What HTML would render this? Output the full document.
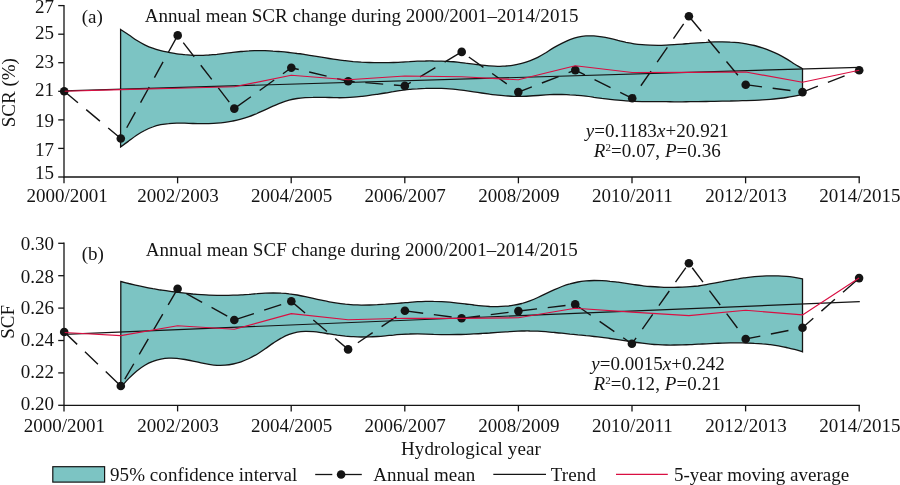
<!DOCTYPE html>
<html lang="en"><head><meta charset="utf-8"><title>Annual mean SCR and SCF change</title>
<style>html,body{margin:0;padding:0;background:#fff}svg{display:block;will-change:transform}</style></head>
<body>
<svg width="900" height="485" viewBox="0 0 900 485" font-family="'Liberation Serif', 'Times New Roman', serif" font-size="19" fill="#141414">
<rect width="900" height="485" fill="#fff"/>
<path d="M120.6 29.5 C121.9 30.4 125.9 32.9 128.6 34.7 C131.3 36.5 134.0 38.6 136.6 40.3 C139.3 42.0 142.0 43.5 144.7 44.8 C147.3 46.1 150.0 47.3 152.7 48.2 C155.4 49.2 158.0 49.9 160.7 50.6 C163.4 51.3 166.1 51.8 168.7 52.3 C171.4 52.8 174.1 53.4 176.8 53.8 C179.4 54.2 182.1 54.4 184.8 54.7 C187.5 54.9 190.1 55.2 192.8 55.3 C195.5 55.4 198.1 55.4 200.8 55.3 C203.5 55.3 206.2 55.1 208.8 55.0 C211.5 54.8 214.2 54.5 216.9 54.3 C219.5 54.0 222.2 53.7 224.9 53.4 C227.6 53.1 230.2 52.7 232.9 52.4 C235.6 52.1 238.3 51.8 240.9 51.5 C243.6 51.3 246.3 51.0 249.0 50.9 C251.6 50.7 254.3 50.7 257.0 50.6 C259.7 50.6 262.3 50.6 265.0 50.7 C267.7 50.8 270.4 50.9 273.0 51.1 C275.7 51.2 278.4 51.5 281.0 51.7 C283.7 51.9 286.4 52.2 289.1 52.5 C291.7 52.8 294.4 53.1 297.1 53.5 C299.8 53.8 302.4 54.2 305.1 54.6 C307.8 55.0 310.5 55.5 313.1 55.9 C315.8 56.4 318.5 56.8 321.2 57.2 C323.8 57.7 326.5 58.1 329.2 58.5 C331.9 58.9 334.5 59.3 337.2 59.7 C339.9 60.1 342.6 60.4 345.2 60.7 C347.9 61.0 350.6 61.3 353.2 61.6 C355.9 61.8 358.6 62.0 361.3 62.2 C363.9 62.3 366.6 62.4 369.3 62.5 C372.0 62.6 374.6 62.7 377.3 62.7 C380.0 62.7 382.7 62.7 385.3 62.7 C388.0 62.7 390.7 62.6 393.4 62.5 C396.0 62.4 398.7 62.3 401.4 62.1 C404.1 62.0 406.7 61.8 409.4 61.7 C412.1 61.5 414.8 61.3 417.4 61.2 C420.1 61.1 422.8 61.0 425.4 61.0 C428.1 60.9 430.8 60.9 433.5 61.0 C436.1 61.0 438.8 61.0 441.5 61.1 C444.2 61.2 446.8 61.3 449.5 61.5 C452.2 61.6 454.9 61.8 457.5 62.1 C460.2 62.4 462.9 62.8 465.6 63.2 C468.2 63.5 470.9 63.9 473.6 64.2 C476.3 64.6 478.9 64.9 481.6 65.2 C484.3 65.5 487.0 65.7 489.6 65.9 C492.3 66.1 495.0 66.3 497.7 66.3 C500.3 66.3 503.0 66.1 505.7 66.0 C508.3 65.8 511.0 65.5 513.7 65.1 C516.4 64.7 519.0 64.1 521.7 63.4 C524.4 62.7 527.1 61.9 529.7 60.9 C532.4 59.8 535.1 58.7 537.8 57.3 C540.4 55.9 543.1 54.3 545.8 52.7 C548.5 51.0 551.1 49.2 553.8 47.6 C556.5 46.0 559.2 44.6 561.8 43.3 C564.5 42.0 567.2 40.7 569.9 39.6 C572.5 38.6 575.2 37.7 577.9 37.1 C580.5 36.5 583.2 36.1 585.9 35.9 C588.6 35.8 591.2 35.8 593.9 35.9 C596.6 36.1 599.3 36.4 601.9 36.8 C604.6 37.2 607.3 37.8 610.0 38.4 C612.6 39.0 615.3 39.7 618.0 40.4 C620.7 41.0 623.3 41.8 626.0 42.4 C628.7 42.9 631.4 43.4 634.0 43.8 C636.7 44.2 639.4 44.5 642.1 44.7 C644.7 45.0 647.4 45.1 650.1 45.2 C652.7 45.3 655.4 45.3 658.1 45.3 C660.8 45.3 663.4 45.2 666.1 45.1 C668.8 45.0 671.5 44.8 674.1 44.6 C676.8 44.5 679.5 44.3 682.2 44.1 C684.8 43.9 687.5 43.6 690.2 43.4 C692.9 43.2 695.5 43.0 698.2 42.8 C700.9 42.6 703.6 42.4 706.2 42.3 C708.9 42.1 711.6 42.0 714.3 41.9 C716.9 41.9 719.6 41.8 722.3 41.8 C725.0 41.8 727.6 41.9 730.3 42.1 C733.0 42.2 735.6 42.4 738.3 42.7 C741.0 43.0 743.7 43.4 746.3 43.8 C749.0 44.3 751.7 44.8 754.4 45.5 C757.0 46.2 759.7 46.9 762.4 47.8 C765.1 48.7 767.7 49.7 770.4 50.8 C773.1 51.9 775.8 53.1 778.4 54.4 C781.1 55.8 783.8 57.3 786.5 58.9 C789.1 60.4 791.8 62.3 794.5 64.0 C797.2 65.6 801.2 67.9 802.5 68.7 L802.5 94.4 C801.2 94.7 797.2 95.6 794.5 96.1 C791.8 96.6 789.1 97.1 786.5 97.5 C783.8 97.9 781.1 98.2 778.4 98.5 C775.8 98.8 773.1 99.1 770.4 99.3 C767.7 99.5 765.1 99.7 762.4 99.9 C759.7 100.1 757.0 100.2 754.4 100.3 C751.7 100.4 749.0 100.5 746.3 100.6 C743.7 100.7 741.0 100.7 738.3 100.8 C735.6 100.8 733.0 100.9 730.3 101.0 C727.6 101.0 725.0 101.1 722.3 101.1 C719.6 101.2 716.9 101.3 714.3 101.4 C711.6 101.4 708.9 101.5 706.2 101.5 C703.6 101.6 700.9 101.6 698.2 101.6 C695.5 101.6 692.9 101.7 690.2 101.7 C687.5 101.7 684.8 101.8 682.2 101.8 C679.5 101.8 676.8 101.8 674.1 101.8 C671.5 101.8 668.8 101.7 666.1 101.7 C663.4 101.7 660.8 101.7 658.1 101.7 C655.4 101.7 652.7 101.7 650.1 101.7 C647.4 101.7 644.7 101.6 642.1 101.6 C639.4 101.5 636.7 101.4 634.0 101.3 C631.4 101.2 628.7 101.0 626.0 100.8 C623.3 100.7 620.7 100.4 618.0 100.2 C615.3 100.0 612.6 99.7 610.0 99.4 C607.3 99.1 604.6 98.7 601.9 98.4 C599.3 98.0 596.6 97.6 593.9 97.3 C591.2 96.9 588.6 96.5 585.9 96.2 C583.2 95.9 580.5 95.6 577.9 95.4 C575.2 95.2 572.5 94.9 569.9 94.8 C567.2 94.6 564.5 94.5 561.8 94.4 C559.2 94.4 556.5 94.4 553.8 94.5 C551.1 94.6 548.5 94.8 545.8 94.9 C543.1 95.1 540.4 95.3 537.8 95.5 C535.1 95.7 532.4 95.9 529.7 96.0 C527.1 96.2 524.4 96.3 521.7 96.4 C519.0 96.4 516.4 96.5 513.7 96.4 C511.0 96.3 508.3 96.0 505.7 95.8 C503.0 95.6 500.3 95.4 497.7 95.1 C495.0 94.9 492.3 94.5 489.6 94.2 C487.0 93.8 484.3 93.4 481.6 93.0 C478.9 92.6 476.3 92.2 473.6 91.8 C470.9 91.4 468.2 91.0 465.6 90.6 C462.9 90.3 460.2 89.9 457.5 89.6 C454.9 89.3 452.2 89.0 449.5 88.8 C446.8 88.6 444.2 88.5 441.5 88.4 C438.8 88.3 436.1 88.3 433.5 88.3 C430.8 88.3 428.1 88.3 425.4 88.4 C422.8 88.4 420.1 88.6 417.4 88.8 C414.8 88.9 412.1 89.2 409.4 89.4 C406.7 89.7 404.1 90.0 401.4 90.4 C398.7 90.7 396.0 91.2 393.4 91.7 C390.7 92.1 388.0 92.6 385.3 93.0 C382.7 93.5 380.0 93.9 377.3 94.3 C374.6 94.7 372.0 95.1 369.3 95.4 C366.6 95.8 363.9 96.1 361.3 96.4 C358.6 96.7 355.9 97.0 353.2 97.2 C350.6 97.4 347.9 97.5 345.2 97.6 C342.6 97.7 339.9 97.8 337.2 97.7 C334.5 97.7 331.9 97.6 329.2 97.5 C326.5 97.4 323.8 97.4 321.2 97.3 C318.5 97.3 315.8 97.3 313.1 97.4 C310.5 97.4 307.8 97.5 305.1 97.7 C302.4 97.9 299.8 98.1 297.1 98.5 C294.4 98.9 291.7 99.4 289.1 100.1 C286.4 100.9 283.7 101.8 281.0 102.8 C278.4 103.8 275.7 105.0 273.0 106.1 C270.4 107.3 267.7 108.6 265.0 109.8 C262.3 111.0 259.7 112.3 257.0 113.5 C254.3 114.6 251.6 115.8 249.0 116.7 C246.3 117.7 243.6 118.5 240.9 119.2 C238.3 119.9 235.6 120.5 232.9 121.0 C230.2 121.5 227.6 122.0 224.9 122.3 C222.2 122.7 219.5 123.0 216.9 123.2 C214.2 123.4 211.5 123.5 208.8 123.6 C206.2 123.7 203.5 123.7 200.8 123.7 C198.1 123.7 195.5 123.6 192.8 123.5 C190.1 123.4 187.5 123.3 184.8 123.2 C182.1 123.2 179.4 123.1 176.8 123.1 C174.1 123.2 171.4 123.3 168.7 123.6 C166.1 123.8 163.4 124.2 160.7 124.7 C158.0 125.3 155.4 126.0 152.7 127.0 C150.0 127.9 147.3 129.1 144.7 130.5 C142.0 131.8 139.3 133.4 136.6 135.2 C134.0 137.0 131.3 139.1 128.6 141.1 C125.9 143.0 121.9 146.0 120.6 147.0 Z" fill="#7cc4c3" stroke="#141414" stroke-width="1.3" stroke-linejoin="miter"/>
<polyline points="64.2,90.9 859.2,67.3" fill="none" stroke="#141414" stroke-width="1.2"/>
<polyline points="64.2,91.3 120.8,138.5 177.7,35.4 234.3,108.6 291.3,67.8 348.2,81.2 404.8,85.9 461.7,51.9 518.3,92.1 575.3,70.1 632.2,98.3 688.9,16.3 745.7,84.7 802.5,92.1 859.2,70.3" fill="none" stroke="#141414" stroke-width="1.4" stroke-dasharray="17.9 10.75"/>
<circle cx="64.2" cy="91.3" r="4.3" fill="#141414"/>
<circle cx="120.8" cy="138.5" r="4.3" fill="#141414"/>
<circle cx="177.7" cy="35.4" r="4.3" fill="#141414"/>
<circle cx="234.3" cy="108.6" r="4.3" fill="#141414"/>
<circle cx="291.3" cy="67.8" r="4.3" fill="#141414"/>
<circle cx="348.2" cy="81.2" r="4.3" fill="#141414"/>
<circle cx="404.8" cy="85.9" r="4.3" fill="#141414"/>
<circle cx="461.7" cy="51.9" r="4.3" fill="#141414"/>
<circle cx="518.3" cy="92.1" r="4.3" fill="#141414"/>
<circle cx="575.3" cy="70.1" r="4.3" fill="#141414"/>
<circle cx="632.2" cy="98.3" r="4.3" fill="#141414"/>
<circle cx="688.9" cy="16.3" r="4.3" fill="#141414"/>
<circle cx="745.7" cy="84.7" r="4.3" fill="#141414"/>
<circle cx="802.5" cy="92.1" r="4.3" fill="#141414"/>
<circle cx="859.2" cy="70.3" r="4.3" fill="#141414"/>
<polyline points="64.2,91.3 120.8,89.6 177.7,88.2 234.3,86.8 291.3,75.2 348.2,79.8 404.8,76.0 461.7,76.7 518.3,79.8 575.3,65.7 632.2,72.5 688.9,72.3 745.7,72.0 802.5,82.3 859.2,70.3" fill="none" stroke="#d90f42" stroke-width="1.15" stroke-linejoin="round"/>
<path d="M64 4.9 V177.0 H859.9" fill="none" stroke="#141414" stroke-width="1.3"/>
<line x1="58.2" x2="64" y1="5.6" y2="5.6" stroke="#141414" stroke-width="1.3"/>
<text x="54" y="12.7" text-anchor="end">27</text>
<line x1="58.2" x2="64" y1="34.2" y2="34.2" stroke="#141414" stroke-width="1.3"/>
<text x="54" y="39.0" text-anchor="end">25</text>
<line x1="58.2" x2="64" y1="62.7" y2="62.7" stroke="#141414" stroke-width="1.3"/>
<text x="54" y="67.7" text-anchor="end">23</text>
<line x1="58.2" x2="64" y1="91.3" y2="91.3" stroke="#141414" stroke-width="1.3"/>
<text x="54" y="95.9" text-anchor="end">21</text>
<line x1="58.2" x2="64" y1="119.9" y2="119.9" stroke="#141414" stroke-width="1.3"/>
<text x="54" y="127.4" text-anchor="end">19</text>
<line x1="58.2" x2="64" y1="148.4" y2="148.4" stroke="#141414" stroke-width="1.3"/>
<text x="54" y="155.9" text-anchor="end">17</text>
<line x1="58.2" x2="64" y1="177.0" y2="177.0" stroke="#141414" stroke-width="1.3"/>
<text x="54" y="179.4" text-anchor="end">15</text>
<line x1="64" x2="64" y1="177.0" y2="183.3" stroke="#141414" stroke-width="1.3"/>
<text x="67.2" y="201.7" text-anchor="middle">2000/2001</text>
<line x1="177.6" x2="177.6" y1="177.0" y2="183.3" stroke="#141414" stroke-width="1.3"/>
<text x="178.0" y="201.7" text-anchor="middle">2002/2003</text>
<line x1="291.2" x2="291.2" y1="177.0" y2="183.3" stroke="#141414" stroke-width="1.3"/>
<text x="291.6" y="201.7" text-anchor="middle">2004/2005</text>
<line x1="404.8" x2="404.8" y1="177.0" y2="183.3" stroke="#141414" stroke-width="1.3"/>
<text x="405.2" y="201.7" text-anchor="middle">2006/2007</text>
<line x1="518.4" x2="518.4" y1="177.0" y2="183.3" stroke="#141414" stroke-width="1.3"/>
<text x="518.8" y="201.7" text-anchor="middle">2008/2009</text>
<line x1="632.0" x2="632.0" y1="177.0" y2="183.3" stroke="#141414" stroke-width="1.3"/>
<text x="632.4" y="201.7" text-anchor="middle">2010/2011</text>
<line x1="745.6" x2="745.6" y1="177.0" y2="183.3" stroke="#141414" stroke-width="1.3"/>
<text x="746.0" y="201.7" text-anchor="middle">2012/2013</text>
<line x1="859.2" x2="859.2" y1="177.0" y2="183.3" stroke="#141414" stroke-width="1.3"/>
<text x="859.9" y="201.7" text-anchor="middle">2014/2015</text>
<text x="81.7" y="22.5">(a)</text>
<text x="144.8" y="21.7" letter-spacing="0.03">Annual mean SCR change during 2000/2001–2014/2015</text>
<text transform="translate(15.2 92.7) rotate(-90)" text-anchor="middle">SCR (%)</text>
<text x="657.3" y="136.7" text-anchor="middle" letter-spacing="0.06"><tspan font-style="italic">y</tspan>=0.1183<tspan font-style="italic">x</tspan>+20.921</text>
<text x="657.3" y="157.1" text-anchor="middle" letter-spacing="0.05"><tspan font-style="italic">R</tspan><tspan font-size="11" dy="-6.5">2</tspan><tspan dy="6.5">=0.07, </tspan><tspan font-style="italic">P</tspan>=0.36</text>
<path d="M120.8 281.5 C122.1 281.8 126.1 282.8 128.8 283.5 C131.5 284.1 134.2 284.8 136.8 285.4 C139.5 286.0 142.2 286.6 144.9 287.1 C147.5 287.7 150.2 288.2 152.9 288.7 C155.6 289.1 158.2 289.6 160.9 290.0 C163.6 290.4 166.2 290.8 168.9 291.1 C171.6 291.5 174.3 291.8 176.9 292.1 C179.6 292.5 182.3 292.8 185.0 293.1 C187.6 293.5 190.3 293.7 193.0 294.0 C195.7 294.2 198.3 294.4 201.0 294.6 C203.7 294.8 206.3 295.0 209.0 295.1 C211.7 295.2 214.4 295.3 217.0 295.4 C219.7 295.4 222.4 295.4 225.1 295.4 C227.7 295.4 230.4 295.3 233.1 295.2 C235.8 295.1 238.4 295.0 241.1 294.8 C243.8 294.7 246.4 294.4 249.1 294.3 C251.8 294.1 254.5 293.8 257.1 293.7 C259.8 293.5 262.5 293.3 265.2 293.2 C267.8 293.1 270.5 293.0 273.2 293.0 C275.9 293.0 278.5 293.0 281.2 293.2 C283.9 293.3 286.5 293.5 289.2 293.9 C291.9 294.2 294.6 294.6 297.2 295.0 C299.9 295.5 302.6 296.0 305.3 296.6 C307.9 297.2 310.6 297.8 313.3 298.4 C316.0 299.0 318.6 299.6 321.3 300.2 C324.0 300.8 326.6 301.4 329.3 301.9 C332.0 302.4 334.7 302.9 337.3 303.2 C340.0 303.6 342.7 303.9 345.4 304.2 C348.0 304.4 350.7 304.6 353.4 304.8 C356.1 304.9 358.7 305.0 361.4 305.1 C364.1 305.1 366.7 305.1 369.4 305.0 C372.1 304.9 374.8 304.8 377.4 304.7 C380.1 304.5 382.8 304.3 385.5 304.2 C388.1 304.0 390.8 303.8 393.5 303.6 C396.2 303.4 398.8 303.2 401.5 303.0 C404.2 302.8 406.8 302.5 409.5 302.3 C412.2 302.1 414.9 301.9 417.5 301.7 C420.2 301.6 422.9 301.5 425.6 301.4 C428.2 301.3 430.9 301.3 433.6 301.4 C436.3 301.4 438.9 301.5 441.6 301.6 C444.3 301.8 446.9 302.0 449.6 302.2 C452.3 302.5 455.0 302.8 457.6 303.1 C460.3 303.4 463.0 303.7 465.7 304.0 C468.3 304.3 471.0 304.7 473.7 305.0 C476.4 305.3 479.0 305.6 481.7 305.8 C484.4 306.1 487.0 306.3 489.7 306.5 C492.4 306.6 495.1 306.6 497.7 306.6 C500.4 306.6 503.1 306.4 505.8 306.2 C508.4 306.0 511.1 305.7 513.8 305.2 C516.5 304.8 519.1 304.2 521.8 303.5 C524.5 302.7 527.1 301.8 529.8 300.8 C532.5 299.8 535.2 298.7 537.8 297.5 C540.5 296.3 543.2 295.0 545.9 293.7 C548.5 292.4 551.2 291.1 553.9 289.9 C556.6 288.7 559.2 287.5 561.9 286.5 C564.6 285.5 567.2 284.6 569.9 283.9 C572.6 283.1 575.3 282.5 577.9 282.0 C580.6 281.5 583.3 281.2 586.0 280.9 C588.6 280.7 591.3 280.6 594.0 280.5 C596.7 280.5 599.3 280.5 602.0 280.6 C604.7 280.8 607.3 281.0 610.0 281.3 C612.7 281.5 615.4 281.9 618.0 282.2 C620.7 282.6 623.4 283.0 626.1 283.4 C628.7 283.8 631.4 284.2 634.1 284.6 C636.8 285.0 639.4 285.4 642.1 285.7 C644.8 286.0 647.4 286.3 650.1 286.5 C652.8 286.7 655.5 286.9 658.1 287.0 C660.8 287.1 663.5 287.3 666.2 287.3 C668.8 287.4 671.5 287.4 674.2 287.4 C676.9 287.3 679.5 287.2 682.2 287.1 C684.9 287.0 687.5 286.9 690.2 286.7 C692.9 286.5 695.6 286.3 698.2 286.0 C700.9 285.6 703.6 285.1 706.3 284.6 C708.9 284.2 711.6 283.7 714.3 283.2 C717.0 282.7 719.6 282.2 722.3 281.7 C725.0 281.1 727.6 280.6 730.3 280.1 C733.0 279.7 735.7 279.2 738.3 278.8 C741.0 278.3 743.7 278.0 746.4 277.6 C749.0 277.3 751.7 277.0 754.4 276.7 C757.1 276.5 759.7 276.3 762.4 276.1 C765.1 276.0 767.7 275.9 770.4 275.8 C773.1 275.8 775.8 275.8 778.4 275.9 C781.1 276.0 783.8 276.2 786.5 276.4 C789.1 276.6 791.8 277.0 794.5 277.4 C797.2 277.8 801.2 278.6 802.5 278.9 L802.5 351.8 C801.2 351.4 797.2 350.1 794.5 349.4 C791.8 348.7 789.1 348.1 786.5 347.5 C783.8 346.9 781.1 346.4 778.4 345.9 C775.8 345.5 773.1 345.1 770.4 344.7 C767.7 344.4 765.1 344.1 762.4 343.9 C759.7 343.6 757.1 343.4 754.4 343.3 C751.7 343.1 749.0 343.0 746.4 343.0 C743.7 342.9 741.0 342.9 738.3 342.8 C735.7 342.8 733.0 342.9 730.3 342.9 C727.6 342.9 725.0 343.0 722.3 343.1 C719.6 343.2 717.0 343.3 714.3 343.4 C711.6 343.5 708.9 343.7 706.3 343.8 C703.6 343.9 700.9 344.1 698.2 344.2 C695.6 344.3 692.9 344.5 690.2 344.6 C687.5 344.7 684.9 344.8 682.2 344.9 C679.5 345.0 676.9 345.0 674.2 345.0 C671.5 345.1 668.8 345.1 666.2 345.0 C663.5 345.0 660.8 344.9 658.1 344.7 C655.5 344.6 652.8 344.4 650.1 344.1 C647.4 343.9 644.8 343.6 642.1 343.2 C639.4 342.9 636.8 342.5 634.1 342.1 C631.4 341.7 628.7 341.3 626.1 340.9 C623.4 340.5 620.7 340.1 618.0 339.7 C615.4 339.3 612.7 338.9 610.0 338.5 C607.3 338.1 604.7 337.8 602.0 337.4 C599.3 337.1 596.7 336.8 594.0 336.5 C591.3 336.2 588.6 335.9 586.0 335.7 C583.3 335.4 580.6 335.1 577.9 334.9 C575.3 334.6 572.6 334.3 569.9 334.1 C567.2 333.8 564.6 333.5 561.9 333.2 C559.2 333.0 556.6 332.7 553.9 332.4 C551.2 332.2 548.5 331.9 545.9 331.7 C543.2 331.5 540.5 331.3 537.8 331.2 C535.2 331.1 532.5 331.0 529.8 331.0 C527.1 330.9 524.5 331.0 521.8 331.0 C519.1 331.1 516.5 331.2 513.8 331.3 C511.1 331.5 508.4 331.6 505.8 331.8 C503.1 332.0 500.4 332.2 497.7 332.4 C495.1 332.6 492.4 332.8 489.7 333.0 C487.0 333.1 484.4 333.3 481.7 333.5 C479.0 333.7 476.4 333.8 473.7 333.9 C471.0 334.1 468.3 334.2 465.7 334.3 C463.0 334.4 460.3 334.5 457.6 334.5 C455.0 334.6 452.3 334.6 449.6 334.6 C446.9 334.6 444.3 334.6 441.6 334.6 C438.9 334.5 436.3 334.4 433.6 334.4 C430.9 334.3 428.2 334.2 425.6 334.1 C422.9 334.0 420.2 333.9 417.5 333.9 C414.9 333.9 412.2 333.9 409.5 334.0 C406.8 334.0 404.2 334.2 401.5 334.4 C398.8 334.6 396.2 334.8 393.5 335.1 C390.8 335.3 388.1 335.6 385.5 335.8 C382.8 336.1 380.1 336.4 377.4 336.5 C374.8 336.7 372.1 336.9 369.4 336.9 C366.7 337.0 364.1 337.0 361.4 337.0 C358.7 337.0 356.1 336.9 353.4 336.7 C350.7 336.6 348.0 336.3 345.4 336.1 C342.7 335.8 340.0 335.5 337.3 335.2 C334.7 334.8 332.0 334.3 329.3 333.9 C326.6 333.5 324.0 333.0 321.3 332.6 C318.6 332.2 316.0 331.8 313.3 331.6 C310.6 331.4 307.9 331.2 305.3 331.3 C302.6 331.4 299.9 331.6 297.2 332.1 C294.6 332.6 291.9 333.4 289.2 334.4 C286.5 335.4 283.9 336.7 281.2 338.2 C278.5 339.6 275.9 341.4 273.2 343.1 C270.5 344.9 267.8 347.0 265.2 348.8 C262.5 350.7 259.8 352.6 257.1 354.2 C254.5 355.8 251.8 357.2 249.1 358.5 C246.4 359.8 243.8 360.9 241.1 361.8 C238.4 362.7 235.8 363.5 233.1 364.0 C230.4 364.6 227.7 365.0 225.1 365.2 C222.4 365.4 219.7 365.4 217.0 365.3 C214.4 365.1 211.7 364.7 209.0 364.3 C206.3 363.9 203.7 363.4 201.0 362.8 C198.3 362.3 195.7 361.7 193.0 361.1 C190.3 360.5 187.6 360.0 185.0 359.5 C182.3 359.1 179.6 358.7 176.9 358.4 C174.3 358.2 171.6 358.1 168.9 358.2 C166.2 358.3 163.6 358.6 160.9 359.1 C158.2 359.6 155.6 360.3 152.9 361.4 C150.2 362.4 147.5 363.6 144.9 365.2 C142.2 366.8 139.5 368.7 136.8 370.9 C134.2 373.1 131.5 375.7 128.8 378.4 C126.1 381.2 122.1 386.0 120.8 387.5 Z" fill="#7cc4c3" stroke="#141414" stroke-width="1.3" stroke-linejoin="miter"/>
<polyline points="64.2,334.3 859.8,301.6" fill="none" stroke="#141414" stroke-width="1.2"/>
<polyline points="64.2,332.0 120.8,386.0 177.6,288.8 234.3,320.0 291.3,301.3 348.1,349.4 404.9,310.8 461.6,318.3 518.4,311.1 575.2,304.4 631.9,343.8 688.9,263.3 745.7,339.0 802.5,327.7 859.1,278.1" fill="none" stroke="#141414" stroke-width="1.4" stroke-dasharray="17.93 10.765"/>
<circle cx="64.2" cy="332.0" r="4.3" fill="#141414"/>
<circle cx="120.8" cy="386.0" r="4.3" fill="#141414"/>
<circle cx="177.6" cy="288.8" r="4.3" fill="#141414"/>
<circle cx="234.3" cy="320.0" r="4.3" fill="#141414"/>
<circle cx="291.3" cy="301.3" r="4.3" fill="#141414"/>
<circle cx="348.1" cy="349.4" r="4.3" fill="#141414"/>
<circle cx="404.9" cy="310.8" r="4.3" fill="#141414"/>
<circle cx="461.6" cy="318.3" r="4.3" fill="#141414"/>
<circle cx="518.4" cy="311.1" r="4.3" fill="#141414"/>
<circle cx="575.2" cy="304.4" r="4.3" fill="#141414"/>
<circle cx="631.9" cy="343.8" r="4.3" fill="#141414"/>
<circle cx="688.9" cy="263.3" r="4.3" fill="#141414"/>
<circle cx="745.7" cy="339.0" r="4.3" fill="#141414"/>
<circle cx="802.5" cy="327.7" r="4.3" fill="#141414"/>
<circle cx="859.1" cy="278.1" r="4.3" fill="#141414"/>
<polyline points="64.2,332.5 120.8,335.6 177.6,325.8 234.3,329.3 291.3,313.6 348.1,319.7 404.9,318.3 461.6,318.3 518.4,317.8 575.2,308.2 631.9,312.1 688.9,315.6 745.7,310.3 802.5,314.9 859.1,278.1" fill="none" stroke="#d90f42" stroke-width="1.15" stroke-linejoin="round"/>
<path d="M64 242.6 V405.4 H859.9" fill="none" stroke="#141414" stroke-width="1.3"/>
<line x1="58.2" x2="64" y1="243.3" y2="243.3" stroke="#141414" stroke-width="1.3"/>
<text x="54" y="250.3" text-anchor="end">0.30</text>
<line x1="58.2" x2="64" y1="275.7" y2="275.7" stroke="#141414" stroke-width="1.3"/>
<text x="54" y="282.5" text-anchor="end">0.28</text>
<line x1="58.2" x2="64" y1="308.1" y2="308.1" stroke="#141414" stroke-width="1.3"/>
<text x="54" y="314.3" text-anchor="end">0.26</text>
<line x1="58.2" x2="64" y1="340.5" y2="340.5" stroke="#141414" stroke-width="1.3"/>
<text x="54" y="346.1" text-anchor="end">0.24</text>
<line x1="58.2" x2="64" y1="372.9" y2="372.9" stroke="#141414" stroke-width="1.3"/>
<text x="54" y="378.0" text-anchor="end">0.22</text>
<line x1="58.2" x2="64" y1="405.3" y2="405.3" stroke="#141414" stroke-width="1.3"/>
<text x="54" y="410.1" text-anchor="end">0.20</text>
<line x1="64" x2="64" y1="405.4" y2="411.4" stroke="#141414" stroke-width="1.3"/>
<text x="64.4" y="432.4" text-anchor="middle">2000/2001</text>
<line x1="177.6" x2="177.6" y1="405.4" y2="411.4" stroke="#141414" stroke-width="1.3"/>
<text x="178.0" y="432.4" text-anchor="middle">2002/2003</text>
<line x1="291.2" x2="291.2" y1="405.4" y2="411.4" stroke="#141414" stroke-width="1.3"/>
<text x="291.6" y="432.4" text-anchor="middle">2004/2005</text>
<line x1="404.8" x2="404.8" y1="405.4" y2="411.4" stroke="#141414" stroke-width="1.3"/>
<text x="405.2" y="432.4" text-anchor="middle">2006/2007</text>
<line x1="518.4" x2="518.4" y1="405.4" y2="411.4" stroke="#141414" stroke-width="1.3"/>
<text x="518.8" y="432.4" text-anchor="middle">2008/2009</text>
<line x1="632.0" x2="632.0" y1="405.4" y2="411.4" stroke="#141414" stroke-width="1.3"/>
<text x="632.4" y="432.4" text-anchor="middle">2010/2011</text>
<line x1="745.6" x2="745.6" y1="405.4" y2="411.4" stroke="#141414" stroke-width="1.3"/>
<text x="746.0" y="432.4" text-anchor="middle">2012/2013</text>
<line x1="859.2" x2="859.2" y1="405.4" y2="411.4" stroke="#141414" stroke-width="1.3"/>
<text x="859.9" y="432.4" text-anchor="middle">2014/2015</text>
<text x="81.7" y="260.3">(b)</text>
<text x="145.8" y="256" letter-spacing="0.04">Annual mean SCF change during 2000/2001–2014/2015</text>
<text transform="translate(13.8 321.8) rotate(-90)" text-anchor="middle">SCF</text>
<text x="658" y="370" text-anchor="middle"><tspan font-style="italic">y</tspan>=0.0015<tspan font-style="italic">x</tspan>+0.242</text>
<text x="657.2" y="390" text-anchor="middle" letter-spacing="0.08"><tspan font-style="italic">R</tspan><tspan font-size="11" dy="-6.5">2</tspan><tspan dy="6.5">=0.12, </tspan><tspan font-style="italic">P</tspan>=0.21</text>
<text x="471" y="455" text-anchor="middle" letter-spacing="0.14">Hydrological year</text>
<rect x="52.8" y="466.7" width="51.8" height="15.4" fill="#7cc4c3" stroke="#141414" stroke-width="1.2"/>
<text x="110" y="481" letter-spacing="0.07">95% confidence interval</text>
<line x1="315.2" x2="332.3" y1="474.5" y2="474.5" stroke="#141414" stroke-width="1.3"/><line x1="344.6" x2="361.8" y1="474.5" y2="474.5" stroke="#141414" stroke-width="1.3"/><circle cx="341.1" cy="474.5" r="4.3" fill="#141414"/>
<text x="373.3" y="481">Annual mean</text>
<line x1="493.3" x2="546" y1="474.3" y2="474.3" stroke="#141414" stroke-width="1.2"/>
<text x="550.7" y="481" letter-spacing="0.15">Trend</text>
<line x1="616" x2="667.8" y1="474.3" y2="474.3" stroke="#d90f42" stroke-width="1.15"/>
<text x="674" y="481">5-year moving average</text>
</svg>
</body></html>
